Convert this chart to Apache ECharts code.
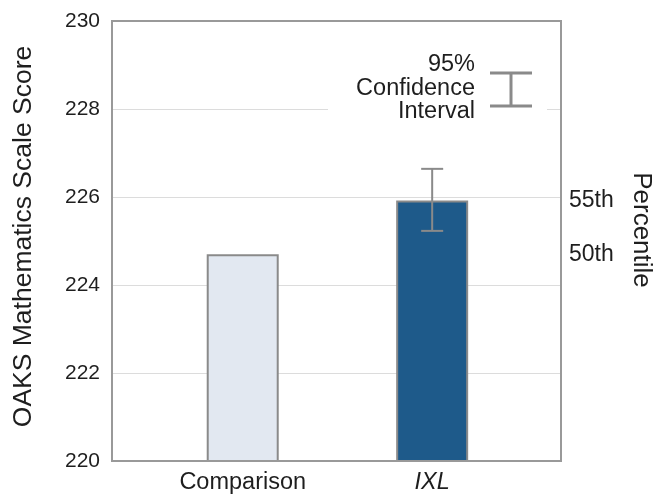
<!DOCTYPE html>
<html>
<head>
<meta charset="utf-8">
<script src="https://cdn.jsdelivr.net/npm/echarts@6/dist/echarts.min.js"></script>
<style>
html,body{margin:0;padding:0;background:#fff;}
#chart{width:663px;height:495px;}
</style>
</head>
<body>
<div id="chart"></div>
<script>
// ---- data ----
const categories = ['Comparison', 'IXL'];
const scores = [224.7, 225.92];
const ciLower = [null, 225.23];
const ciUpper = [null, 226.64];
const percentileLabels = ['50th', '55th'];
const legendLines = ['95%', 'Confidence', 'Interval'];
const yAxisTitle = 'OAKS Mathematics Scale Score';
const rightTitle = 'Percentile';

const FONT = '"Liberation Sans", Arial, sans-serif';
const TXT = '#1e1e1e';
const GRID = { left: 112, top: 21, right: 102, bottom: 33 };

const chart = echarts.init(document.getElementById('chart'), null, { renderer: 'canvas' });

const barData = scores.map((v, i) => ({
  value: [i, v],
  itemStyle: {
    color: i === 0 ? '#e2e8f1' : '#1e5a8a',
    borderColor: '#8a8a8a',
    borderWidth: 2
  }
}));

const errData = categories.map((c, i) => [i, ciLower[i], ciUpper[i]]).filter(d => d[1] != null);

const legendGraphics = legendLines.map((t, i) => ({
  type: 'text', z: 60, x: 475, y: 65 + i * 23.5,
  style: { text: t, fontSize: 23.5, fontFamily: FONT, fill: TXT, textAlign: 'right', textVerticalAlign: 'middle' }
}));
const ERR_ICON = { stroke: '#8a8a8a', lineWidth: 3 };

const option = {
  animation: false,
  textStyle: { fontFamily: FONT },
  grid: {
    left: GRID.left, top: GRID.top, right: GRID.right, bottom: GRID.bottom,
    show: true, borderColor: '#999', borderWidth: 2, backgroundColor: 'transparent', z: 3
  },
  xAxis: {
    type: 'value',
    min: -0.69, max: 1.68,
    axisLine: { show: false },
    axisTick: { show: false },
    splitLine: { show: false },
    axisLabel: {
      customValues: categories.map((c, i) => i),
      margin: 10,
      fontSize: 23.5,
      color: TXT,
      fontFamily: FONT,
      formatter: v => (v === 1 ? '{it|' + categories[v] + '}' : categories[v]),
      rich: { it: { fontStyle: 'italic', fontSize: 23.5, color: TXT, fontFamily: FONT } }
    }
  },
  yAxis: [
    {
      type: 'value',
      min: 220, max: 230, interval: 2,
      position: 'left',
      name: yAxisTitle,
      nameLocation: 'middle',
      nameGap: 75,
      nameMoveOverlap: false,
      nameTextStyle: { fontSize: 26.5, color: TXT, fontFamily: FONT, padding: [0, 0, 0, 9] },
      axisLine: { show: false },
      axisTick: { show: false },
      splitLine: { show: true, lineStyle: { color: '#dcdcdc', width: 1 } },
      axisLabel: { fontSize: 21, color: TXT, margin: 12, fontFamily: FONT }
    },
    {
      type: 'value',
      min: 220, max: 230,
      position: 'right',
      axisLine: { show: false },
      axisTick: { show: false },
      splitLine: { show: false },
      axisLabel: {
        customValues: scores,
        fontSize: 23, color: TXT, margin: 8, fontFamily: FONT,
        formatter: v => percentileLabels[scores.indexOf(v)]
      }
    }
  ],
  series: [
    {
      type: 'bar',
      barWidth: 72,
      data: barData,
      clip: true,
      z: 2
    },
    {
      type: 'custom',
      data: errData,
      z: 5,
      renderItem: function (params, api) {
        const x = api.value(0);
        const top = api.coord([x, api.value(2)]);
        const bot = api.coord([x, api.value(1)]);
        const hw = 11;
        const st = { stroke: '#8a8a8a', lineWidth: 2 };
        return {
          type: 'group',
          children: [
            { type: 'line', shape: { x1: top[0], y1: top[1], x2: bot[0], y2: bot[1] }, style: st },
            { type: 'line', shape: { x1: top[0] - hw, y1: top[1], x2: top[0] + hw, y2: top[1] }, style: st },
            { type: 'line', shape: { x1: bot[0] - hw, y1: bot[1], x2: bot[0] + hw, y2: bot[1] }, style: st }
          ]
        };
      }
    }
  ],
  graphic: [
    { type: 'rect', z: 50, shape: { x: 328, y: 55, width: 219, height: 72 }, style: { fill: '#fff' } },
    ...legendGraphics,
    { type: 'line', z: 60, shape: { x1: 511, y1: 73, x2: 511, y2: 106 }, style: ERR_ICON },
    { type: 'line', z: 60, shape: { x1: 490, y1: 73, x2: 532, y2: 73 }, style: ERR_ICON },
    { type: 'line', z: 60, shape: { x1: 490, y1: 106, x2: 532, y2: 106 }, style: ERR_ICON },
    {
      type: 'text', z: 60, x: 641, y: 230, rotation: -Math.PI / 2,
      style: { text: rightTitle, fontSize: 26, fontFamily: FONT, fill: TXT, textAlign: 'center', textVerticalAlign: 'middle' }
    }
  ]
};

chart.setOption(option);
</script>
</body>
</html>
